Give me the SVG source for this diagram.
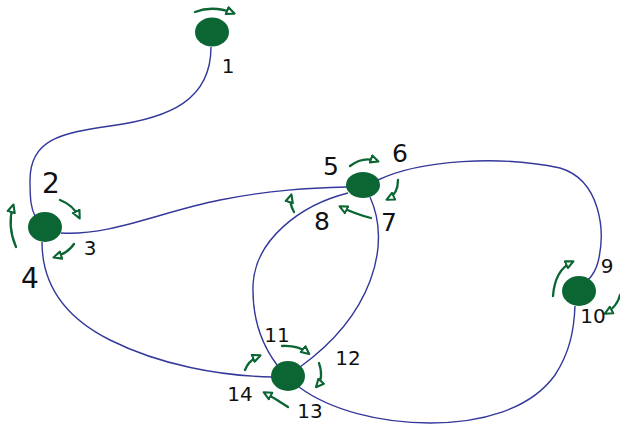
<svg xmlns="http://www.w3.org/2000/svg" width="620" height="426" viewBox="0 0 620 426">
<style>
.edge{fill:none;stroke:#34389a;stroke-width:1.4}
.node{fill:#0b6634}
.rot{fill:none;stroke:#0b6634;stroke-width:2.3;stroke-linecap:round;marker-end:url(#head)}
.lbl{font-family:"DejaVu Sans","Liberation Sans",sans-serif;fill:#111;text-anchor:middle}
.big{font-size:28px}
.mid{font-size:25px}
.sm{font-size:20px}
</style>
<defs>
<marker id="head" viewBox="0 0 10 10" refX="7" refY="5" markerWidth="10.5" markerHeight="10.5" markerUnits="userSpaceOnUse" orient="auto">
<path d="M1,1.5 L8.5,5 L1,8.5 Z" fill="#fff" stroke="#0b6634" stroke-width="2" stroke-linejoin="round"/>
</marker>
</defs>
<rect width="620" height="426" fill="#fff"/>
<g id="connectors">
<path class="edge" d="M211,47 C211,100 170,118 110,126 C60,133 30,140 30,180 C30,200 31,208 35,216"/>
<path class="edge" d="M61,233 C110,236 160,212 220,200 C270,190 310,188 347,187"/>
<path class="edge" d="M378,180 C420,160 500,155 560,168 C600,180 606,230 598,262 C596,270 592,276 588,280"/>
<path class="edge" d="M370,197 C392,245 372,315 300,367"/>
<path class="edge" d="M348,193 C300,205 255,240 253,285 C252,320 262,345 277,365"/>
<path class="edge" d="M42,242 C42,290 70,320 110,340 C160,365 220,376 272,377"/>
<path class="edge" d="M299,387 C330,410 380,423 430,423 C480,423 530,410 555,375 C570,352 574,330 575,306"/>
</g>
<g id="node1">
<ellipse class="node" cx="212" cy="32" rx="17" ry="14.5"/>
<path class="rot" d="M195,12 Q213,5 233,13"/>
<text class="lbl sm" x="228" y="73">1</text>
</g>
<g id="node2">
<ellipse class="node" cx="45" cy="227" rx="17" ry="15"/>
<path class="rot" d="M60,200 Q73,205 79,217"/>
<path class="rot" d="M74,244 Q68,253 55,257"/>
<path class="rot" d="M16,247 Q7,226 13,206"/>
<text class="lbl big" x="51" y="193">2</text>
<text class="lbl sm" x="90" y="255">3</text>
<text class="lbl big" x="30" y="288">4</text>
</g>
<g id="node5">
<ellipse class="node" cx="363" cy="185" rx="17" ry="13"/>
<path class="rot" d="M350,166 Q363,156 377,161"/>
<path class="rot" d="M398,180 Q398,194 388,199"/>
<path class="rot" d="M371,218 Q355,214 341,207"/>
<path class="rot" d="M294,212 Q289,203 291,196"/>
<text class="lbl mid" x="331" y="175">5</text>
<text class="lbl mid" x="400" y="162">6</text>
<text class="lbl mid" x="389" y="231">7</text>
<text class="lbl mid" x="322" y="230">8</text>
</g>
<g id="node9">
<ellipse class="node" cx="579" cy="291" rx="17" ry="15"/>
<path class="rot" d="M553,296 Q555,270 572,262"/>
<path class="rot" d="M620,295 Q617,307 606,313"/>
<text class="lbl sm" x="607" y="273">9</text>
<text class="lbl sm" x="593" y="323">10</text>
</g>
<g id="node11">
<ellipse class="node" cx="288" cy="376" rx="17" ry="15"/>
<path class="rot" d="M282,346 Q298,345 308,353"/>
<path class="rot" d="M319,363 Q324,378 317,386"/>
<path class="rot" d="M288,407 Q276,399 265,393"/>
<path class="rot" d="M245,370 Q249,360 259,356"/>
<text class="lbl sm" x="277" y="342">11</text>
<text class="lbl sm" x="348" y="365">12</text>
<text class="lbl sm" x="310" y="418">13</text>
<text class="lbl sm" x="240" y="401">14</text>
</g>
</svg>
